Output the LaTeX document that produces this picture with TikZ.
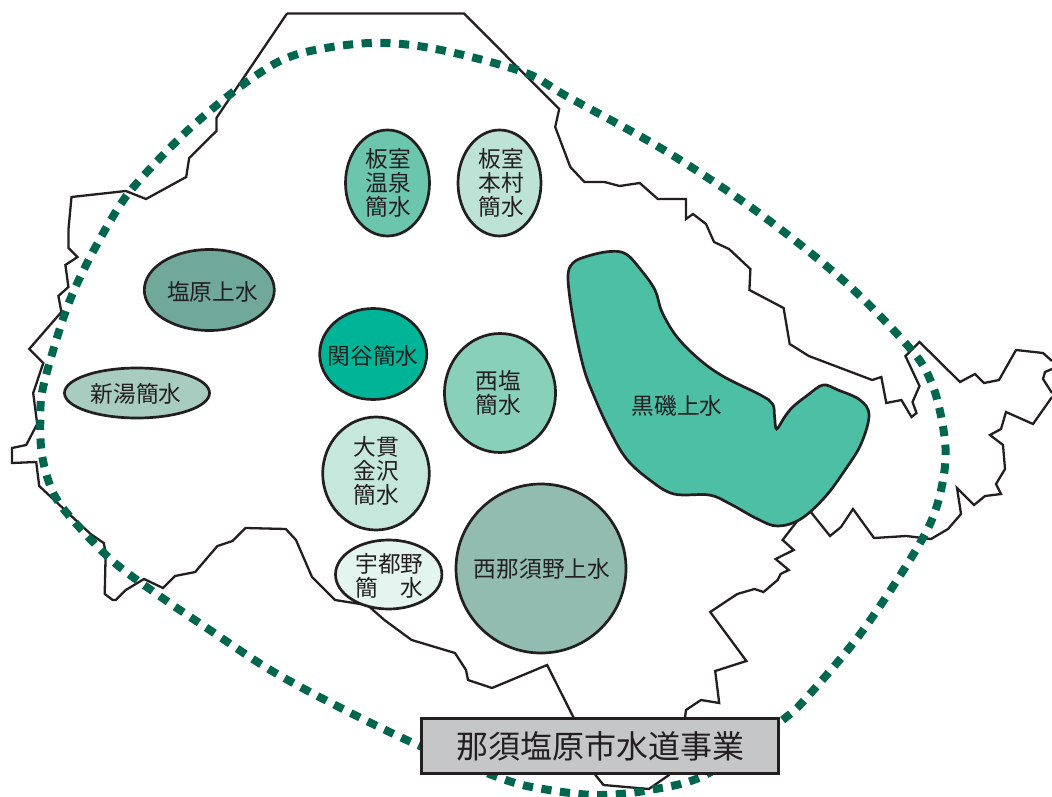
\documentclass[tikz,border=0pt]{standalone}
\usepackage{fontspec}
\setmainfont{Noto Sans CJK JP}
\usetikzlibrary{shapes.geometric}
\definecolor{ink}{HTML}{231F20}
\definecolor{route}{HTML}{00674E}
\definecolor{cA}{HTML}{6CC6AE}
\definecolor{cB}{HTML}{BDE3D7}
\definecolor{cC}{HTML}{70A99A}
\definecolor{cD}{HTML}{00B597}
\definecolor{cE}{HTML}{88D0B9}
\definecolor{cF}{HTML}{A9CCC1}
\definecolor{cG}{HTML}{C6E7DC}
\definecolor{cH}{HTML}{E4F4EF}
\definecolor{cI}{HTML}{93BCB0}
\definecolor{cJ}{HTML}{4DBFA5}
\definecolor{cK}{HTML}{C5C6C8}
\tikzset{
  border/.style={draw=ink,line width=2.3pt,line join=miter},
  area/.style={draw=ink,line width=2.7pt,ellipse,inner sep=0pt,outer sep=0pt},
  lab/.style={inner sep=0pt,outer sep=0pt,align=center,text=ink,font=\fontsize{22.7}{24}\selectfont},
  dotline/.style={draw=route,line width=8pt,dash pattern=on 10.2pt off 8.5pt},
}
\begin{document}
\begin{tikzpicture}[x=1pt,y=-1pt]
\useasboundingbox (0,0) rectangle (1052,797);
\draw[border] (287,13.5) -- (464,13.5) -- (559.2,109) -- (555.2,127) -- (570.3,167) -- (584.4,182) -- (604.5,182) -- (619.6,186) -- (639.7,183) -- (657.8,199) -- (686,199) -- (686,219) -- (693,214) -- (706,224) -- (714,242) -- (729,249) -- (750.4,269) -- (749.4,290) -- (783.6,308) -- (789.7,344) -- (808.8,356) -- (872.2,380) -- (881.3,377) -- (886.3,403) -- (901.4,400) -- (911.5,417) -- (916.5,413) -- (912.5,402) -- (919.5,386) -- (905.4,356) -- (919.5,342) -- (960,382) -- (975,374) -- (984,383) -- (999,380) -- (1016,350) -- (1043,353) -- (1052,361);
\draw[border] (1052,369) -- (1045,372) -- (1043,379) -- (1052,393);
\draw[border] (1052,397) -- (1033,424) -- (1006,412) -- (1001,429) -- (990,435) -- (1003,445) -- (1005,469) -- (996,484) -- (1001,494) -- (985,496) -- (974,505) -- (957,488) -- (961,514) -- (948,529) -- (931,539) -- (906.4,536) -- (874,538) -- (853,509) -- (841,527) -- (830,536) -- (810,511) -- (798,520) -- (782.6,540) -- (793.7,550) -- (775.6,559) -- (788.7,570) -- (780.6,574) -- (777.6,580) -- (763.5,592) -- (754.5,589) -- (737.3,594) -- (710.2,612) -- (746.4,661) -- (715.2,671) -- (719.2,703) -- (701,700) -- (686,710) -- (684,725) -- (669,775) -- (648.8,789) -- (603.5,785) -- (595.4,775) -- (574.3,719) -- (547.1,665) -- (492,688) -- (468,680) -- (466,670) -- (455,653) -- (411.6,640) -- (384.4,620) -- (367.3,605) -- (360.3,604) -- (335,600) -- (312,577) -- (296,540) -- (285.8,529) -- (245.6,528) -- (232.5,541) -- (217.4,546) -- (195.2,572) -- (175,576) -- (163,588) -- (144,579) -- (125.8,590) -- (115.7,600) -- (112.7,600) -- (104.7,594) -- (105.7,552) -- (103.7,543) -- (90.6,534) -- (39.2,486) -- (36.2,462) -- (12,463) -- (12,448) -- (26.2,445) -- (37.2,424) -- (33.2,393) -- (43.3,363) -- (29.2,349) -- (61.4,312) -- (58.4,296) -- (68.4,287) -- (65.4,265) -- (77.5,257) -- (68.4,248) -- (68.4,230) -- (71.5,197) -- (125.8,191) -- (146,199) -- (186.2,177) -- (189.2,158) -- (216.4,131) -- (216.4,118) -- (287,13.5);
\draw[dotline] plot[smooth cycle,tension=0.55] coordinates {(369.3,43) (435.8,49) (523.3,72) (566.3,96) (663.9,150) (757.5,212) (845,282) (911.5,350) (931.6,383) (941.6,419) (945.7,455) (940.6,492) (928.6,527) (900.4,575) (858,637) (809.8,694) (782.6,720) (707.2,774) (649.8,790) (596.4,795) (543.1,789) (503,779) (417.7,745) (335,705) (268.7,669) (208.3,629) (161,597) (113.7,562) (75.5,523) (53.7,494) (42.3,457) (40.3,420) (43.6,385) (65.4,312) (87.6,262) (115.7,212) (137.9,182) (189.2,129) (246.6,82) (294.9,55)};
\fill[cJ,draw=ink,line width=2.7pt] plot[smooth cycle,tension=0.6] coordinates {(568,278) (573,263) (588,256) (610,251.5) (626,254) (641,270) (655,290) (662,312) (677,337) (700,360) (724.3,377) (760.5,395) (772.6,404) (774.6,417) (776.6,429) (784.6,417) (792.7,407) (807.8,395) (823,385) (838,390) (860,400) (869,415) (861,444) (845,470) (825,497) (800.7,519) (777.6,526) (757.5,519) (730.3,504) (709.2,495) (674,494) (649.8,480) (626.6,459) (609.5,430) (594.4,397) (583.4,367) (573.3,320)};
\node[lab] (tj) at (677,406) {黒磯上水};
\node[area,fill=cA,minimum width=84pt,minimum height=106pt] (a) at (387.5,183) {};
\node[lab] (ta) at (388,183) {板室\\温泉\\簡水};
\node[area,fill=cB,minimum width=83pt,minimum height=106pt] (b) at (499.5,183) {};
\node[lab] (tb) at (501,183) {板室\\本村\\簡水};
\node[area,fill=cC,minimum width=130pt,minimum height=81pt] (c) at (209.3,290) {};
\node[lab] (tc) at (212.4,292) {塩原上水};
\node[area,fill=cD,minimum width=107pt,minimum height=91pt] (d) at (373.2,354) {};
\node[lab] (td) at (373,355.7) {関谷簡水};
\node[area,fill=cE,minimum width=111pt,minimum height=119pt] (e) at (500,393) {};
\node[lab] (te) at (498,392.5) {西塩\\簡水};
\node[area,fill=cF,minimum width=145pt,minimum height=50pt] (f) at (137,393) {};
\node[lab] (tf) at (136,393.5) {新湯簡水};
\node[area,fill=cG,minimum width=106.6pt,minimum height=113pt] (g) at (376,473.5) {};
\node[lab] (tg) at (376,471) {大貫\\金沢\\簡水};
\node[area,fill=cH,minimum width=106.4pt,minimum height=69pt] (h) at (388.7,574.5) {};
\node[lab] (th) at (389.5,575.7) {宇都野\\簡\hspace{22.7pt}水};
\node[area,fill=cI,minimum width=170pt,minimum height=169pt] (i) at (541,568.5) {};
\node[lab] (ti) at (542,568.7) {西那須野上水};
\node[draw=ink,line width=2.7pt,fill=cK,minimum width=357pt,minimum height=55pt,inner sep=0pt,outer sep=0pt,text=ink,font=\fontsize{32}{36}\selectfont] (title) at (600,746) {那須塩原市水道事業};
\end{tikzpicture}
\end{document}
